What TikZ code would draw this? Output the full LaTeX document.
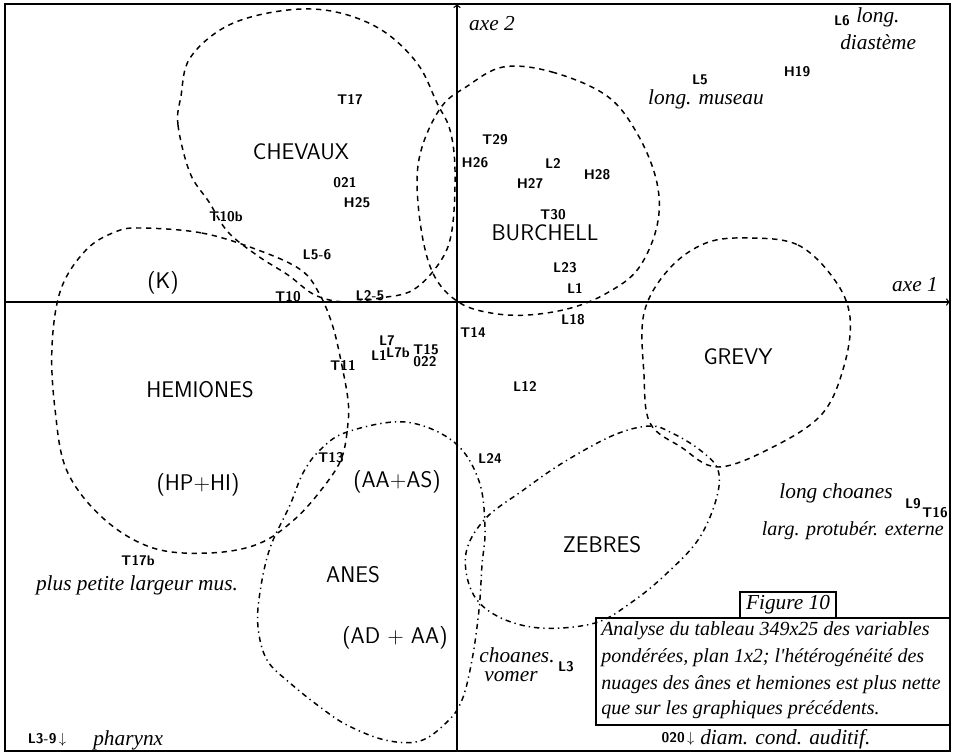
\documentclass[tikz,border=0pt]{standalone}
\usepackage{fontspec}
\newfontfamily\handfont{Liberation Serif}
\begin{document}
\begin{tikzpicture}[x=0.75pt, y=-0.75pt]

\tikzstyle{pt}=[font=\sffamily\bfseries\fontsize{10.5}{11}\selectfont, inner sep=0pt]
\tikzstyle{group}=[font=\sffamily\fontsize{17}{19}\selectfont\addfontfeature{LetterSpace=6}, inner sep=0pt]
\tikzstyle{hand}=[font=\handfont\itshape\fontsize{16}{17}\selectfont, inner sep=0pt]
\tikzstyle{smallhand}=[font=\handfont\itshape\fontsize{15}{16}\selectfont, inner sep=0pt]
\tikzstyle{cloud}=[dash pattern=on 4pt off 3.5pt, line width=1.1pt]
\tikzstyle{cloudmix}=[dash pattern=on 4pt off 3pt on 1pt off 3pt, line width=1.1pt]
\tikzstyle{axis}=[->, line width=1pt]

\useasboundingbox (0,0) rectangle (959,754);

\coordinate (NW) at (5,4);
\coordinate (SE) at (950,751);
\coordinate (xleft) at (5,302);
\coordinate (xright) at (950,302);
\coordinate (ybottom) at (457,751);
\coordinate (ytop) at (457,4);
\draw [line width=1.5pt] (NW) rectangle (SE);
\draw [axis] (xleft) -- (xright);
\draw [axis] (ybottom) -- (ytop);
\node (axe1) [hand] at (915,285) {axe 1};
\node (axe2) [hand] at (492,24) {axe 2};

% nuages
\draw [cloud] plot [smooth cycle, tension=0.6] coordinates {(181,96) (178,125) (190,173) (209,202) (228,232) (258,256) (288,275) (315,295) (345,302) (380,298) (413,290) (440,262) (452,230) (455,170) (450,130) (437,103) (417,63) (380,29) (331,11) (280,11) (227,26) (190,58)};
\draw [cloud] plot [smooth cycle, tension=0.6] coordinates {(503,67) (552,72) (607,96) (638,135) (657,183) (657,226) (638,269) (607,293) (571,308) (528,315) (491,313) (460,303) (436,279) (423,240) (417,183) (423,144) (442,106) (466,87)};
\draw [cloud] plot [smooth cycle, tension=0.6] coordinates {(749,238) (798,245) (834,279) (850,317) (844,366) (822,414) (773,447) (718,467) (681,447) (650,423) (644,375) (644,313) (669,269) (706,243)};
\draw [cloudmix] plot [smooth cycle, tension=0.6] coordinates {(650,426) (614,435) (564,462) (522,491) (485,519) (466,553) (472,592) (497,616) (540,628) (595,623) (632,602) (665,575) (698,540) (716,500) (718,470) (700,450) (672,433)};
\draw [cloudmix] plot [smooth cycle, tension=0.6] coordinates {(405,422) (454,442) (479,481) (485,529) (482,565) (479,610) (472,660) (462,700) (447,722) (420,741) (385,740) (347,725) (320,707) (290,683) (267,660) (258,627) (260,592) (270,548) (290,505) (303,473) (320,450) (347,432)};
\draw [cloud] plot [smooth cycle, tension=0.6] coordinates {(141,228) (202,233) (258,250) (301,270) (320,295) (333,327) (342,366) (348,400) (348,423) (342,457) (325,485) (295,519) (258,544) (209,553) (153,548) (104,519) (67,471) (55,409) (52,346) (61,289) (86,250) (115,232)};

% groupes
\node (chevaux) [group] at (301,152) {CHEVAUX};
\node (burchell) [group] at (545,233) {BURCHELL};
\node (k) [group] at (163,283) {(K)};
\node (grevy) [group] at (738,357) {GREVY};
\node (hemiones) [group] at (200,390) {HEMIONES};
\node (hphi) [group] at (198,485) {(HP+HI)};
\node (aaas) [group] at (397,482) {(AA+AS)};
\node (zebres) [group] at (602,545) {ZEBRES};
\node (anes) [group] at (353,575) {ANES};
\node (adaa) [group] at (395,638) {(AD + AA)};

% variables
\node (T17) [pt] at (350,100) {T17};
\node (O21) [pt] at (345,183) {021};
\node (H25) [pt] at (357,203) {H25};
\node (T10b) [pt] at (226,217) {T10b};
\node (L56) [pt] at (317,255) {L5-6};
\node (T10) [pt] at (288,297) {T10};
\node (L25) [pt] at (370,296) {L2-5};
\node (T29) [pt] at (495,140) {T29};
\node (H26) [pt] at (475,163) {H26};
\node (L2) [pt] at (553,163) {L2};
\node (H27) [pt] at (530,184) {H27};
\node (H28) [pt] at (597,175) {H28};
\node (T30) [pt] at (553,215) {T30};
\node (L23) [pt] at (565,268) {L23};
\node (L1) [pt] at (575,288) {L1};
\node (L18) [pt] at (573,320) {L18};
\node (T14) [pt] at (473,332) {T14};
\node (L7) [pt] at (387,341) {L7};
\node (L1b) [pt] at (379,355) {L1};
\node (L7b) [pt] at (398,353) {L7b};
\node (T15) [pt] at (426,350) {T15};
\node (O22) [pt] at (425,362) {022};
\node (T11) [pt] at (343,365) {T11};
\node (L12) [pt] at (525,386) {L12};
\node (T13) [pt] at (331,458) {T13};
\node (L24) [pt] at (490,458) {L24};
\node (L9) [pt] at (913,504) {L9};
\node (T16) [pt] at (935,513) {T16};
\node (T17b) [pt] at (138,561) {T17b};
\node (L3) [pt] at (566,667) {L3};
\node (L5) [pt] at (700,80) {L5};
\node (H19) [pt] at (797,72) {H19};
\node (L6) [pt] at (842,21) {L6};
\node (L39) [pt] at (47,740) {L3-9\,$\downarrow$};
\node (O20) [pt] at (678,739) {020\,$\downarrow$};

% legendes manuscrites
\node (diastA) [hand, anchor=west] at (856,17) {long.};
\node (diastB) [hand, anchor=west] at (840,42) {diastème};
\node (museau) [hand] at (706,99) {long. museau};
\node (choanes) [hand] at (836,493) {long choanes};
\node (protub) [smallhand, anchor=east] at (944,531) {larg. protubér. externe};
\node (largeur) [hand] at (137,585) {plus petite largeur mus.};
\node (choanesv) [hand] at (517,655) {choanes.};
\node (vomer) [hand] at (511,677) {vomer};
\node (pharynx) [hand, anchor=west] at (93,740) {pharynx};
\node (auditif) [hand, anchor=west] at (700,739) {diam. cond. auditif.};

% figure 10
\coordinate (capNW) at (596,618);
\coordinate (capNE) at (950,618);
\coordinate (capSW) at (596,725);
\coordinate (capSE) at (950,725);
\draw [line width=1.3pt] (capNE) -- (capNW) -- (capSW) -- (capSE);
\node (fig) [hand, draw, line width=1pt, minimum width=72pt, minimum height=19pt, anchor=south] at (788,618) {Figure 10};
\node (cap1) [smallhand, anchor=west] at (601,631) {Analyse du tableau 349x25 des variables};
\node (cap2) [smallhand, anchor=west] at (601,658) {pondérées, plan 1x2; l'hétérogénéité des};
\node (cap3) [smallhand, anchor=west] at (601,685) {nuages des ânes et hemiones est plus nette};
\node (cap4) [smallhand, anchor=west] at (601,710) {que sur les graphiques précédents.};

\end{tikzpicture}
\end{document}
